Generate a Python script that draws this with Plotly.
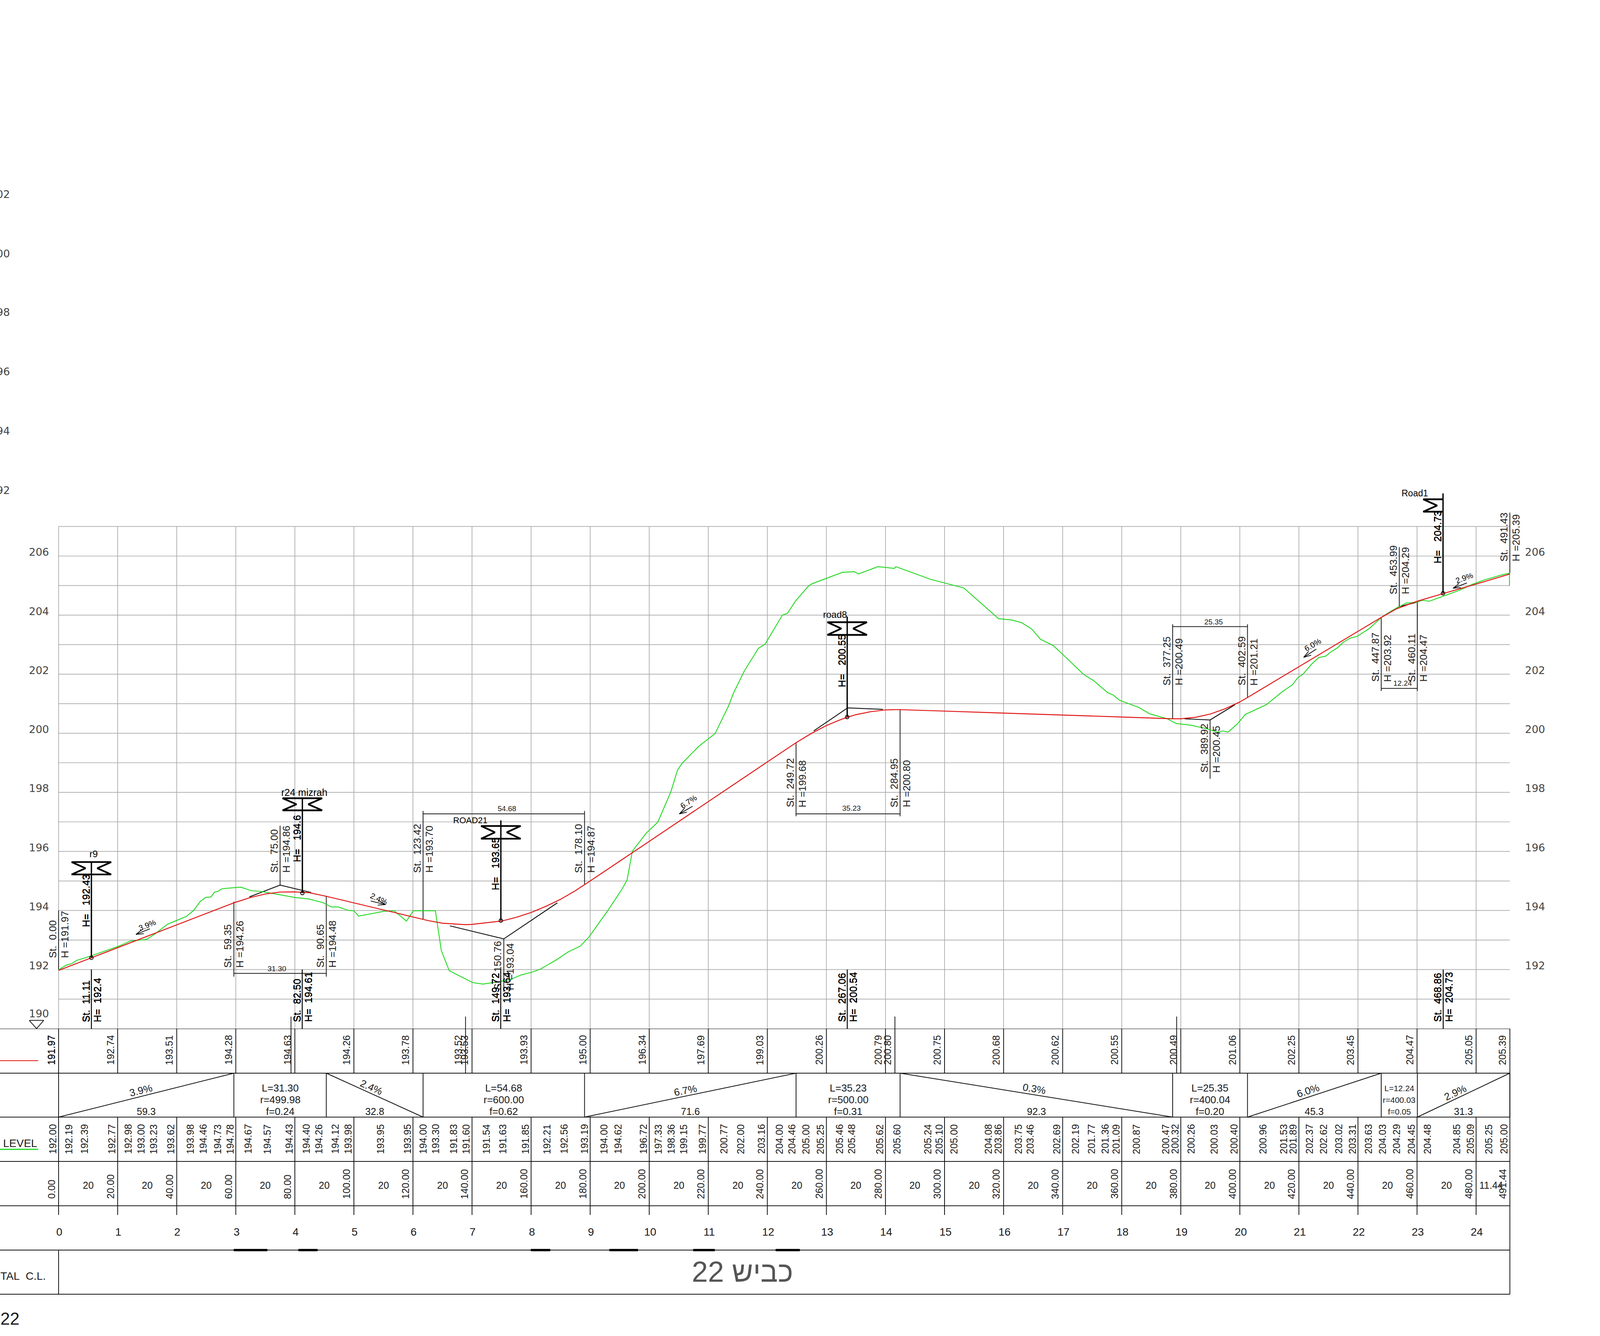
import math
import plotly.graph_objects as go

W, H = 4129, 3421
FONT = "Liberation Sans"
AXFONT = "DejaVu Sans"
INK = "#1a1a1a"

# ---------- profile data ----------
ground_st = [0,2.6,4.4,6.1,10.9,15.6,20.3,24.4,29.8,32.7,36.8,40.4,43.3,45.7,48.1,49.8,51.6,52.8,54.0,55.2,56.9,61.7,65.2,68.1,73.5,80.0,84.7,89.4,92.4,94.7,98.3,100.0,101.6,110.1,113.6,117.8,120.1,127.6,129.6,132.3,140.2,143.7,148.5,152.6,156.7,160.3,163.2,165.3,168.9,172.4,176.6,179.5,186.0,190.7,192.5,194.3,199.0,202.9,207.3,209.6,211.2,216.7,222.3,226.8,228.5,232.1,237.0,239.2,245.1,246.8,249.5,253.9,255.1,265.5,269.5,270.8,277.5,283.0,283.5,295.3,303.5,306.5,318.3,323.0,326.2,329.5,332.5,336.8,341.1,347.0,350.5,355.3,357.0,359.4,365.9,369.4,375.4,378.5,383.6,388.9,392.5,394.2,396.0,399.0,401.9,409.0,414.3,417.9,419.6,421.4,424.4,426.7,429.1,430.9,433.0,435.0,437.4,439.7,443.9,448.0,451.5,456.3,459.8,461.6,464.2,468.6,474.6,478.7,482.8,488.7,491.3,491.3]
ground_h = [191.99,192.15,192.20,192.31,192.46,192.62,192.79,192.97,193.02,193.21,193.53,193.68,193.80,194.00,194.32,194.44,194.46,194.62,194.65,194.73,194.75,194.79,194.67,194.65,194.56,194.44,194.39,194.27,194.12,194.12,194.00,193.99,193.81,193.97,193.99,193.64,193.99,193.99,192.64,191.96,191.56,191.51,191.58,191.65,191.82,191.91,192.02,192.14,192.35,192.59,192.79,193.09,194.00,194.71,195.03,196.01,196.62,196.99,198.01,198.76,198.99,199.55,199.99,200.91,201.35,202.09,202.88,203.01,204.00,204.06,204.47,204.98,205.06,205.45,205.47,205.39,205.64,205.58,205.64,205.21,205.00,204.92,203.88,203.83,203.74,203.53,203.18,202.97,202.57,202.00,201.78,201.37,201.30,201.11,200.87,200.66,200.49,200.33,200.27,200.15,200.03,200.08,200.04,200.30,200.64,200.97,201.40,201.65,201.88,202.00,202.35,202.56,202.61,202.76,202.89,203.08,203.22,203.28,203.55,203.93,204.15,204.41,204.43,204.50,204.47,204.63,204.85,205.04,205.19,205.36,205.42,205.00]

design_st = [0,11.11,20,40,59.35,60,65,70,75,80,82.5,85,90.65,100,120,123.42,125,130,137.8,140,149.72,150,155,160,165,170,175,178.1,180,200,220,240,249.72,255,260,265,267.06,270,275,280,283.2,284.95,300,320,340,360,377.25,380,385,390,395,400,402.59,420,440,447.87,453,460,460.11,468.86,480,491.44]
design_h = [191.97,192.40,192.74,193.51,194.26,194.28,194.44,194.56,194.625,194.63,194.61,194.60,194.48,194.26,193.78,193.70,193.66,193.57,193.52,193.53,193.64,193.64,193.77,193.93,194.14,194.38,194.67,194.87,195.00,196.34,197.69,199.03,199.68,200.00,200.26,200.47,200.54,200.63,200.73,200.79,200.80,200.80,200.75,200.68,200.62,200.55,200.49,200.49,200.54,200.65,200.83,201.06,201.21,202.25,203.45,203.92,204.21,204.47,204.47,204.73,205.05,205.39]

# tangent lines through each intersection point
tangent_st = [[64.6,75.0,85.5],[132.5,150.76,168.9],[255.7,267.2,279.1],[381.3,389.92,398.4],[448.0,453.99,459.8]]
tangent_h = [[194.46,194.86,194.61],[193.48,193.04,194.26],[200.08,200.86,200.81],[200.49,200.45,200.97],[203.93,204.29,204.43]]

# ---------- axis labels ----------
elev_ticks = [192,194,196,198,200,202,204,206]
stub_labels = ["02","00","98","96","94","92"]
stub_elev = [218.24,216.23,214.25,212.25,210.24,208.22]

# ---------- leader call-outs: station, level, line top, line bottom, text base ----------
callout_st = [0.00,59.35,90.65,75.00,123.42,178.10,150.76,249.72,284.95,377.25,402.59,389.92,447.87,460.11,453.99,491.43]
callout_lab = ["191.97","194.26","194.48","194.86","193.70","194.87","193.04","199.68","200.80","200.49","201.21","200.45","203.92","204.47","204.29","205.39"]
callout_top = [194.0,194.3,194.5,196.87,197.37,197.37,193.04,199.67,200.8,203.69,203.69,200.45,203.9,204.47,206.3,207.47]
callout_bot = [192.0,191.76,191.76,194.86,193.71,194.89,191.25,197.19,197.19,200.49,201.22,198.46,201.43,201.43,204.28,205.42]
callout_base = [192.37,192.05,192.05,195.26,195.26,195.26,191.29,197.48,197.48,201.6,201.6,198.65,201.73,201.73,204.69,205.80]

brackets = [(59.35,90.65,191.87,"31.30",74.0,192.03),(123.42,178.10,197.27,"54.68",151.9,197.45),
            (249.72,284.95,197.27,"35.23",268.5,197.46),(377.25,402.59,203.61,"25.35",391.1,203.77),
            (447.87,460.11,201.52,"12.24",455.1,201.69)]

# ---------- structures ----------
struct_name = ["r9","r24 mizrah","ROAD21","road8","Road1"]
struct_st = [11.11,82.55,149.76,267.04,468.8]
struct_mark = [192.40,194.59,193.66,200.55,204.74]
struct_lab = ["192.43","194.6","193.65","200.55","204.73"]
struct_top = [195.64,197.80,196.86,203.76,207.92]
struct_bot = [195.22,197.39,196.43,203.33,207.50]
struct_mast = [195.64,197.80,197.05,203.95,208.12]
struct_base = [193.43,195.62,194.67,201.55,205.73]
struct_name_st = [11.9,83.2,139.4,262.9,459.3]
struct_name_h = [195.91,198.0,197.05,204.02,208.12]
struct_name_size = [24,25,22,24,23]

below_st = [11.11,82.50,149.72,267.06,468.86]
below_lab = ["192.4","194.61","193.64","200.54","204.73"]
below_name = ["11.11","82.50","149.72","267.06","468.86"]

pi_ticks = [78.7,137.8,283.2,378.6]

# ---------- grade arrows in the profile ----------
arrow_txt = ["3.9%","2.4%","6.7%","6.0%","2.9%"]
arrow_txt_st = [30.0,108.5,213.3,424.7,476.0]
arrow_txt_h = [193.51,194.39,197.68,202.99,205.25]
arrow_angle = [-22,25,-33,-30,-20]
arrow_tail_st = [30.9,105.7,214.7,425.9,476.9]
arrow_tail_h = [193.38,194.32,197.53,202.85,205.09]
arrow_head_st = [26.2,110.7,210.2,421.6,472.2]
arrow_head_h = [193.19,194.20,197.27,202.57,204.91]

# ---------- table ----------
design_row_st = [0,20,40,60,80,100,120,137.8,140,160,180,200,220,240,260,280,283.2,300,320,340,360,380,400,420,440,460,480,491.44]
design_row = ["191.97","192.74","193.51","194.28","194.63","194.26","193.78","193.52","193.53","193.93","195.00","196.34","197.69","199.03","200.26","200.79","200.80","200.75","200.68","200.62","200.55","200.49","201.06","202.25","203.45","204.47","205.05","205.39"]

ground_row_st = [-2.0,3.5,8.7,18.0,23.5,27.9,32.2,38,44.6,48.9,53.9,58.1,64.1,70.7,78,83.8,88.1,93.6,98,109,118.1,123.4,127.6,133.7,138,144.8,150.4,158.1,165.4,171.1,178,184.7,189.4,198,203.1,207.4,211.7,218,225.2,231,237.9,244.1,248.3,253.1,258,264.4,268.5,278.1,283.9,294.3,298.2,303.2,314.8,318.1,325,329,338,344.3,349.7,354.3,358.1,365,374.9,378,383.4,391.3,398,407.8,414.8,418,423.5,428.3,433.4,438.1,443.5,448.3,453,458.1,463.5,473.4,478,484.3,489.4]
ground_row = ["192.00","192.19","192.39","192.77","192.98","193.00","193.23","193.62","193.98","194.46","194.73","194.78","194.67","194.57","194.43","194.40","194.26","194.12","193.98","193.95","193.95","194.00","193.30","191.83","191.60","191.54","191.63","191.85","192.21","192.56","193.19","194.00","194.62","196.72","197.33","198.36","199.15","199.77","200.77","202.00","203.16","204.00","204.46","205.00","205.25","205.46","205.48","205.62","205.60","205.24","205.10","205.00","204.08","203.86","203.75","203.46","202.69","202.19","201.77","201.36","201.09","200.87","200.47","200.32","200.26","200.03","200.40","200.96","201.53","201.89","202.37","202.62","203.02","203.31","203.63","204.03","204.29","204.45","204.48","204.85","205.09","205.25","205.00"]

station_st = [20*i for i in range(25)] + [491.44]
station_lab = ["%.2f" % s for s in station_st]
spacing_st = [10+20*i for i in range(24)] + [485.1]
spacing_lab = ["20"]*24 + ["11.44"]
km_lab = [str(i) for i in range(25)]

grade_bounds = [(0,59.35,"up"),(90.65,123.42,"down"),(178.10,249.72,"up"),(284.95,377.25,"down"),(402.59,447.87,"up"),(460.11,491.43,"up")]
grade_txt = ["3.9%","2.4%","6.7%","0.3%","6.0%","2.9%"]
grade_len = ["59.3","32.8","71.6","92.3","45.3","31.3"]
grade_lab_st = [27.9,105.9,212.3,330.4,423.1,472.9]
grade_lab_y = [158,150,158,154,159,164]
grade_angle = [-14,24,-11,9,-18,-25]
curve_bounds = [(59.35,90.65),(123.42,178.10),(249.72,284.95),(377.25,402.59),(447.87,460.11)]
curve_L = ["L=31.30","L=54.68","L=35.23","L=25.35","L=12.24"]
curve_r = ["r=499.98","r=600.00","r=500.00","r=400.04","r=400.03"]
curve_f = ["f=0.24","f=0.62","f=0.31","f=0.20","f=0.05"]
curve_size = [26,26,26,26,21]
thick_marks = [(59.3,70.7),(81.2,87.7),(159.9,166.5),(186.5,196.2),(214.9,222.2),(242.8,251.0)]

END = 491.44
ROW = [0,114,226.5,340,453.5,567,680]
TICK = 477

# ---------- figure ----------
fig = go.Figure()
SPLIT = 787/H
PX = 1/7.56
UH = 1/75.64

def poly(segs, color, width, yaxis="y"):
    xs, ys = [], []
    for s in segs:
        for x, y in s:
            xs.append(x); ys.append(y)
        xs.append(None); ys.append(None)
    fig.add_trace(go.Scatter(x=xs, y=ys, mode="lines", yaxis=yaxis, hoverinfo="skip", showlegend=False,
                             line=dict(color=color, width=width)))

anns = []
def txt(x, y, s, size=25, angle=0, xa="center", ya="middle", xs=0, ys=0, yref="y", color=INK, strike=False, family=FONT):
    for dx in ([0, 1] if strike else [0]):
        anns.append(dict(x=x, y=y, xref="x", yref=yref, text=s, textangle=angle, xanchor=xa, yanchor=ya, xshift=xs+dx, yshift=ys,
                         showarrow=False, borderpad=0, font=dict(family=family, size=size, color=color)))

# grid
grid = [[(20*i,190),(20*i,207)] for i in range(25)] + [[(0,e),(END,e)] for e in range(191,208)]
poly(grid, "#a8a8a8", 1.7)

# leaders
lead = [[(s,t),(s,b)] for s,t,b in zip(callout_st, callout_top, callout_bot)]
for a,b,y,_,_,_ in brackets:
    lead.append([(a,y),(b,y)])
lead += [[(p,190.41),(p,190)] for p in pi_ticks]
poly(lead, INK, 2)
poly([list(zip(a,b)) for a,b in zip(tangent_st, tangent_h)], "#111111", 2.2)

# profile
poly([list(zip(ground_st, ground_h))], "#1fd71f", 2.2)
poly([list(zip(design_st, design_h))], "#e01515", 2.4)

# structures
masts, flags = [], []
for i,(s,m,t,b,tp) in enumerate(zip(struct_st, struct_mark, struct_top, struct_bot, struct_mast)):
    masts.append([(s,m),(s,tp)])
    mid = (t+b)/2
    left = [(s,t),(s-6.7,t),(s-2.0,mid),(s-6.7,b),(s,b)]
    right = [(s,t),(s+6.7,t),(s+2.0,mid),(s+6.7,b),(s,b)]
    flags.append(left)
    if struct_name[i] != "Road1":
        flags.append(right)
poly(masts, "#000000", 3.4)
poly(flags, "#000000", 4.4)
fig.add_trace(go.Scatter(x=struct_st, y=struct_mark, mode="markers", hoverinfo="skip", showlegend=False,
                         marker=dict(size=9, color="rgba(0,0,0,0)", line=dict(color="#000000", width=2))))
poly([[(s,192),(s,190)] for s in below_st], "#000000", 2.4)

# datum triangle
poly([[(-9.92,190.28),(-5.03,190.28),(-7.47,190.0),(-9.92,190.28)]], INK, 2)

# grade arrows: shaft with two long barbs
arrows = []
for tx,ty,hx,hy in zip(arrow_tail_st, arrow_tail_h, arrow_head_st, arrow_head_h):
    dx, dy = (tx-hx)/PX, (ty-hy)/UH
    n = math.hypot(dx, dy)
    arrows.append([(tx,ty),(hx,hy)])
    for sgn in (1,-1):
        a = math.atan2(dy, dx) + sgn*math.radians(17)
        arrows.append([(hx,hy),(hx+20*math.cos(a)*PX, hy+20*math.sin(a)*UH)])
poly(arrows, "#000000", 1.8)

# table lines
rows = [[(-30,ROW[i]),(END,ROW[i])] for i in range(len(ROW))]
rows.append([(END,0),(END,ROW[-1])])
rows.append([(0,0),(0,TICK)]); rows.append([(0,ROW[5]),(0,ROW[6])])
for i in range(1,25):
    rows.append([(20*i,0),(20*i,ROW[1])])
    rows.append([(20*i,ROW[2]),(20*i,TICK)])
rows += [[(p,0),(p,ROW[1])] for p in pi_ticks]
for a,b,k in grade_bounds:
    rows.append([(a,ROW[1]),(a,ROW[2])]); rows.append([(b,ROW[1]),(b,ROW[2])])
    rows.append([(a,ROW[2]),(b,ROW[1])] if k=="up" else [(a,ROW[1]),(b,ROW[2])])
poly(rows, "#111111", 2, "y2")
poly([[(a,ROW[5]),(b,ROW[5])] for a,b in thick_marks], "#000000", 6, "y2")
poly([[(-30,82),(-6.9,82)]], "#e01515", 2.2, "y2")
poly([[(-30,309),(-6.9,309)]], "#1fd71f", 2.8, "y2")

# elevation labels
for e in elev_ticks:
    txt(-6.6, e, str(e), size=27, ys=10, color="#444444", family=AXFONT)
    txt(500, e, str(e), size=27, ys=10, color="#444444", family=AXFONT)
txt(-6.6, 190, "190", size=27, ys=39, color="#444444", family=AXFONT)
for s,e in zip(stub_labels, stub_elev):
    txt(-16.4, e, s, size=27, xa="right", color="#444444", family=AXFONT)

# call-outs
for s,l,b in zip(callout_st, callout_lab, callout_base):
    txt(s, b, "St.\u00a0\u00a0%.2f" % s, size=26, angle=-90, ya="bottom", xs=-15)
    txt(s, b, "H\u00a0=%s" % l, size=26, angle=-90, ya="bottom", xs=16)
for a,b,y,t,x,ty in brackets:
    txt(x, ty, t, size=19)

# structures text
for n,ns,nh,sz,s,l,b in zip(struct_name, struct_name_st, struct_name_h, struct_name_size, struct_st, struct_lab, struct_base):
    txt(ns, nh, n, size=sz, color="#000000")
    txt(s, b, "H=\u00a0\u00a0\u00a0%s" % l, size=26, angle=-90, ya="bottom", xs=-14, color="#000000", strike=True)
for s,n,l in zip(below_st, below_name, below_lab):
    txt(s, 190.21, "St.\u00a0\u00a0%s" % n, size=26, angle=-90, ya="bottom", xs=-14, color="#000000", strike=True)
    txt(s, 190.21, "H=\u00a0\u00a0%s" % l, size=26, angle=-90, ya="bottom", xs=15, color="#000000", strike=True)

# grade arrow labels
for t,x,y,a in zip(arrow_txt, arrow_txt_st, arrow_txt_h, arrow_angle):
    txt(x, y, t, size=20, angle=a, color="#000000")

# table text
for i,(s,l) in enumerate(zip(design_row_st, design_row)):
    txt(s, 94, l, size=25, angle=-90, xa="right", ya="bottom", xs=-4, yref="y2", strike=(i==0))
for s,l in zip(ground_row_st, ground_row):
    txt(s, 322, l, size=25, angle=-90, ya="bottom", yref="y2")
for s,l in zip(station_st, station_lab):
    txt(s, 437, l, size=25, angle=-90, xa="right", ya="bottom", xs=-4, yref="y2")
for s,l in zip(spacing_st, spacing_lab):
    txt(s, 401, l, size=25, yref="y2")
for i,l in enumerate(km_lab):
    txt(20*i, 520, l, size=28, xs=2, yref="y2")
for (a,b,k),t,ln,ls,ly,an in zip(grade_bounds, grade_txt, grade_len, grade_lab_st, grade_lab_y, grade_angle):
    txt(ls, ly, t, size=26, angle=an, yref="y2")
    txt((a+b)/2, 212, ln, size=25, yref="y2")
for (a,b),L,r,f,sz in zip(curve_bounds, curve_L, curve_r, curve_f, curve_size):
    m = (a+b)/2
    txt(m, 152, L, size=sz, yref="y2"); txt(m, 182, r, size=sz, yref="y2"); txt(m, 212, f, size=sz, yref="y2")

txt(-19.84, 293, "LEVEL", size=28, xa="left", xs=7, yref="y2")
txt(-19.84, 633, "TAL\u00a0\u00a0C.L.", size=28, xa="left", yref="y2")
txt(-19.84, 742, "22", size=44, xa="left", yref="y2")
txt(231.5, 622, "כביש 22", size=74, yref="y2", color="#555555")

fig.update_layout(
    width=W, height=H, margin=dict(l=0, r=0, t=0, b=0), paper_bgcolor="white", plot_bgcolor="white",
    showlegend=False, annotations=anns,
    xaxis=dict(range=[-150*PX, (W-150)*PX], visible=False, domain=[0,1], fixedrange=True),
    yaxis=dict(range=[190, 190+2634*UH], visible=False, domain=[SPLIT,1], fixedrange=True),
    yaxis2=dict(range=[787,0], visible=False, domain=[0,SPLIT], anchor="x", fixedrange=True),
)
fig.write_html("out.html", post_script="document.body.style.margin='0';", config={"displayModeBar": False})
